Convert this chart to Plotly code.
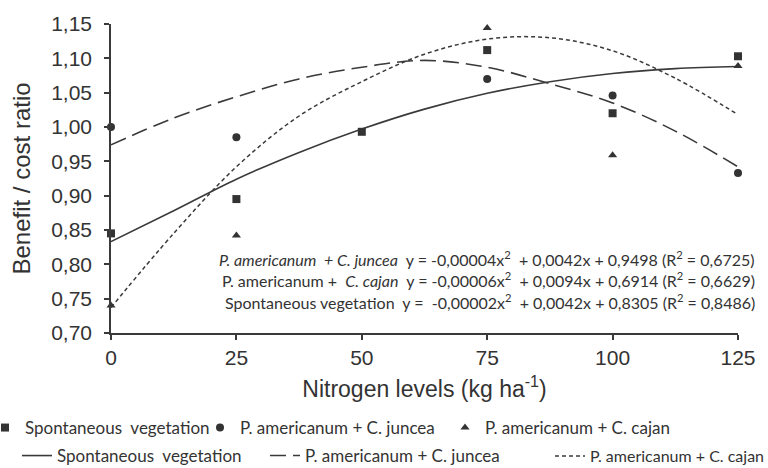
import plotly.graph_objects as go

# ---- data ----
N = [0, 25, 50, 75, 100, 125]
spont_obs = [0.845, 0.895, 0.993, 1.112, 1.020, 1.103]
juncea_obs = [1.000, 0.985, None, 1.070, 1.046, 0.933]
cajan_obs = [0.740, 0.842, None, 1.144, 0.959, 1.089]

fit_x = [0, 12.5, 25, 37.5, 50, 62.5, 75, 87.5, 100, 112.5, 125]
spont_fit = [0.833, 0.878, 0.924, 0.963, 0.997, 1.026, 1.049, 1.066, 1.078, 1.085, 1.088]
juncea_fit = [0.974, 1.013, 1.044, 1.070, 1.087, 1.097, 1.087, 1.063, 1.035, 0.994, 0.942]
cajan_fit = [0.737, 0.845, 0.942, 1.016, 1.066, 1.106, 1.128, 1.130, 1.111, 1.071, 1.018]

x_ticks = [0, 25, 50, 75, 100, 125]
y_ticks = [0.70, 0.75, 0.80, 0.85, 0.90, 0.95, 1.00, 1.05, 1.10, 1.15]

names = ["Spontaneous  vegetation", "P. americanum + C. juncea", "P. americanum + C. cajan"]
equations = [
    "<i>P. americanum  + C. juncea</i>  y = -0,00004x<sup>2</sup>  + 0,0042x + 0,9498 (R<sup>2</sup> = 0,6725)",
    "P. americanum +  <i>C. cajan</i>  y = -0,00006x<sup>2</sup>  + 0,0094x + 0,6914 (R<sup>2</sup> = 0,6629)",
    "Spontaneous vegetation  y =  -0,00002x<sup>2</sup>  + 0,0042x + 0,8305 (R<sup>2</sup> = 0,8486)",
]

INK = "#333333"
LINE = "#3a3a3a"
FAM = "Lato, Open Sans, sans-serif"

W, H = 768, 468
ML, MR, MT, MB = 111, 21, 21, 132
PW = W - ML - MR
PH = H - MT - MB

fig = go.Figure()

# fitted curves
fig.add_trace(go.Scatter(x=fit_x, y=spont_fit, mode="lines", name="Spontaneous  vegetation",
                         line=dict(color=LINE, width=1.6, shape="spline"), legend="legend4",
                         cliponaxis=False))
fig.add_trace(go.Scatter(x=fit_x, y=juncea_fit, mode="lines", name=names[1],
                         line=dict(color=LINE, width=1.6, dash="16px,7px", shape="spline"),
                         legend="legend5", cliponaxis=False))
fig.add_trace(go.Scatter(x=fit_x, y=cajan_fit, mode="lines", name=names[2],
                         line=dict(color=LINE, width=1.5, dash="4px,3px", shape="spline"),
                         legend="legend6", cliponaxis=False))

# observed points
fig.add_trace(go.Scatter(x=N, y=spont_obs, mode="markers", name=names[0],
                         marker=dict(symbol="square", size=8, color=INK), legend="legend",
                         cliponaxis=False))
fig.add_trace(go.Scatter(x=N, y=juncea_obs, mode="markers", name=names[1],
                         marker=dict(symbol="circle", size=8, color=INK), legend="legend2",
                         cliponaxis=False))
fig.add_trace(go.Scatter(x=N, y=cajan_obs, mode="markers", name=names[2],
                         marker=dict(symbol="triangle-up", size=8, color=INK), legend="legend3",
                         cliponaxis=False))


def leg(px_text_start, py_center, size=17, indent=0):
    return dict(orientation="h", xref="container", yref="container",
                x=max(0, (px_text_start - 40 - indent) / W), y=1 - py_center / H,
                xanchor="left", yanchor="middle",
                font=dict(family=FAM, size=size, color=INK), indentation=indent,
                bgcolor="rgba(0,0,0,0)", borderwidth=0, itemclick=False)


for i, eq in enumerate(equations):
    py = [260, 282, 304][i]
    fig.add_annotation(text=eq, xref="paper", yref="paper",
                       x=(766 - ML) / PW, y=(H - MB - py) / PH,
                       xanchor="right", yanchor="middle", showarrow=False,
                       font=dict(family=FAM, size=16, color=INK))

fig.update_layout(
    width=W, height=H,
    margin=dict(l=ML, r=MR, t=MT, b=MB),
    paper_bgcolor="white", plot_bgcolor="white",
    separators=",.",
    showlegend=True,
    legend=leg(18, 428, indent=-15),
    legend2=leg(240, 428),
    legend3=leg(485, 428),
    legend4=leg(57, 456),
    legend5=leg(305, 456),
    legend6=leg(590, 456, size=16),
    xaxis=dict(range=[0, 125], tickvals=x_ticks, showgrid=False, zeroline=False,
               showline=True, linecolor=LINE, linewidth=1.5,
               ticks="outside", ticklen=5, tickcolor=LINE, tickwidth=1.5,
               tickfont=dict(family="Liberation Sans, Arial, sans-serif", size=21, color=INK),
               title=dict(text="Nitrogen levels (kg ha<sup>-1</sup>)", standoff=13,
                          font=dict(family="Liberation Sans, Arial, sans-serif", size=23, color=INK))),
    yaxis=dict(range=[0.70, 1.15], tickvals=y_ticks, tickformat=".2f", showgrid=False,
               zeroline=False, showline=True, linecolor=LINE, linewidth=1.5,
               ticks="outside", ticklen=5, tickcolor=LINE, tickwidth=1.5,
               ticklabelstandoff=8,
               tickfont=dict(family="Liberation Sans, Arial, sans-serif", size=21, color=INK),
               title=dict(text="Benefit / cost ratio", standoff=14,
                          font=dict(family="Liberation Sans, Arial, sans-serif", size=24, color=INK))),
)

fig.write_html("out.html")
